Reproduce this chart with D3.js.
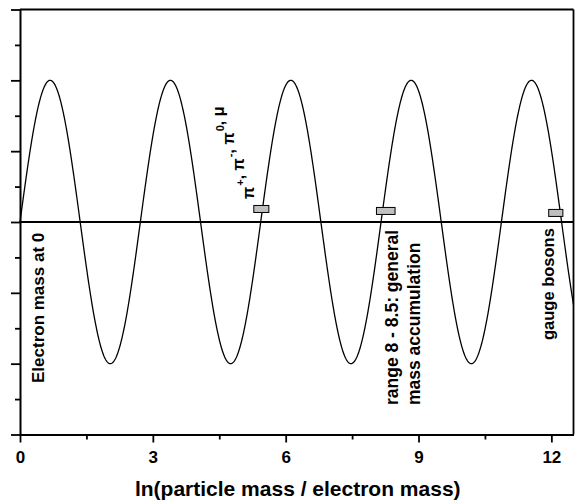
<!DOCTYPE html>
<html>
<head>
<meta charset="utf-8">
<script src="https://cdn.jsdelivr.net/npm/d3@7"></script>
<style>
  html, body { margin: 0; padding: 0; background: #fff; }
  svg { display: block; font-family: "Liberation Sans", Arial, sans-serif; }
</style>
</head>
<body>
<svg id="chart" width="578" height="501"></svg>
<script>
// ---- data ----
const xDomain = [0, 12.5];
const yDomain = [-1.5, 1.5];
const xMajorTicks = [0, 3, 6, 9, 12];
const xMinorTicks = [1.5, 4.5, 7.5, 10.5];
const yMajorTicks = [-1.5, -1, -0.5, 0, 0.5, 1, 1.5];
const yMinorTicks = [-1.25, -0.75, -0.25, 0.25, 0.75, 1.25];
const wavePeriod = 2.718;     // distance between peaks (ln units)
const waveAmplitude = 1;
const markerStart = [5.28, 8.05, 11.94];
const markerEnd   = [5.62, 8.47, 12.26];
const markerY     = [0.092, 0.078, 0.064];
const xTitle = "ln(particle mass / electron mass)";

const svg = d3.select("#chart");
const margin = {left: 20, right: 4.5, top: 9.5, bottom: 66.5};
const W = 578, H = 501;
const x = d3.scaleLinear().domain(xDomain).range([margin.left, W - margin.right]);
const y = d3.scaleLinear().domain(yDomain).range([H - margin.bottom, margin.top]);

// curve
const samples = d3.range(0, 12.5 + 1e-9, 0.01);
const line = d3.line().x(d => x(d)).y(d => y(waveAmplitude * Math.sin(2 * Math.PI * d / wavePeriod)));
svg.append("path").datum(samples).attr("d", line)
  .attr("fill", "none").attr("stroke", "#000").attr("stroke-width", 1.3);

// zero line
svg.append("line").attr("x1", x(xDomain[0])).attr("x2", x(xDomain[1]))
  .attr("y1", y(0)).attr("y2", y(0)).attr("stroke", "#000").attr("stroke-width", 1.8);

// frame top & right
svg.append("line").attr("x1", x(xDomain[0])).attr("x2", x(xDomain[1]))
  .attr("y1", y(yDomain[1])).attr("y2", y(yDomain[1])).attr("stroke", "#000").attr("stroke-width", 1.8);
svg.append("line").attr("x1", x(xDomain[1])).attr("x2", x(xDomain[1]))
  .attr("y1", y(yDomain[1])).attr("y2", y(yDomain[0])).attr("stroke", "#000").attr("stroke-width", 1.8);

// bottom axis
const axB = svg.append("g").attr("transform", `translate(0,${y(yDomain[0])})`)
  .call(d3.axisBottom(x).tickValues(xMajorTicks).tickSize(8).tickSizeOuter(0).tickPadding(8).tickFormat(d3.format("d")));
axB.selectAll(".tick line").attr("stroke-width", 1.8);
axB.select(".domain").attr("stroke-width", 2);
axB.selectAll("text").attr("font-size", 17).attr("font-weight", "bold").attr("fill", "#000")
  .attr("font-family", "Liberation Sans, Arial, sans-serif");
const axBm = svg.append("g").attr("transform", `translate(0,${y(yDomain[0])})`)
  .call(d3.axisBottom(x).tickValues(xMinorTicks).tickSize(5).tickFormat(""));
axBm.select(".domain").remove();
axBm.selectAll(".tick line").attr("stroke-width", 1.8);

// left axis
const axL = svg.append("g").attr("transform", `translate(${x(0)},0)`)
  .call(d3.axisLeft(y).tickValues(yMajorTicks).tickSize(9).tickSizeOuter(0).tickFormat(""));
axL.selectAll(".tick line").attr("stroke-width", 1.8);
axL.select(".domain").attr("stroke-width", 2);
const axLm = svg.append("g").attr("transform", `translate(${x(0)},0)`)
  .call(d3.axisLeft(y).tickValues(yMinorTicks).tickSize(5).tickFormat(""));
axLm.select(".domain").remove();
axLm.selectAll(".tick line").attr("stroke-width", 1.8);

// markers
svg.selectAll("rect.marker").data(markerStart).join("rect").attr("class", "marker")
  .attr("x", d => x(d))
  .attr("width", (d, i) => x(markerEnd[i]) - x(d))
  .attr("y", (d, i) => y(markerY[i]) - 3.5)
  .attr("height", 7)
  .attr("fill", "#c0c0c0").attr("stroke", "#000").attr("stroke-width", 1);

// axis title
svg.append("text").attr("x", (x(0) + x(12.5)) / 2 + 1).attr("y", 496)
  .attr("text-anchor", "middle").attr("font-size", 21).attr("font-weight", "bold").text(xTitle);

// annotations
function vtext(px, py, str, size) {
  return svg.append("text").attr("transform", `translate(${px},${py}) rotate(-90)`)
    .attr("font-size", size || 17).attr("font-weight", "bold").attr("fill", "#000").text(str);
}
vtext(44, 383, "Electron mass at 0", 17);
vtext(398, 405, "range 8 - 8.5: general", 17.5);
vtext(420, 405, "mass accumulation", 17.5);
vtext(554, 340, "gauge bosons", 16.5);

// pion label with superscripts
const pl = svg.append("text").attr("transform", `translate(254,199) rotate(-90)`)
  .attr("font-size", 16).attr("font-weight", "bold");
const parts = [["π", "+"], [", π", "-"], [", π", "0"], [", μ", null]];
parts.forEach(([base, sup]) => {
  pl.append("tspan").attr("dy", 0).text(base);
  if (sup) {
    pl.append("tspan").attr("dx", 1).attr("dy", -10).attr("font-size", 11).text(sup);
    pl.append("tspan").attr("dx", 1).attr("dy", 10).text("");
  }
});
</script>
</body>
</html>
